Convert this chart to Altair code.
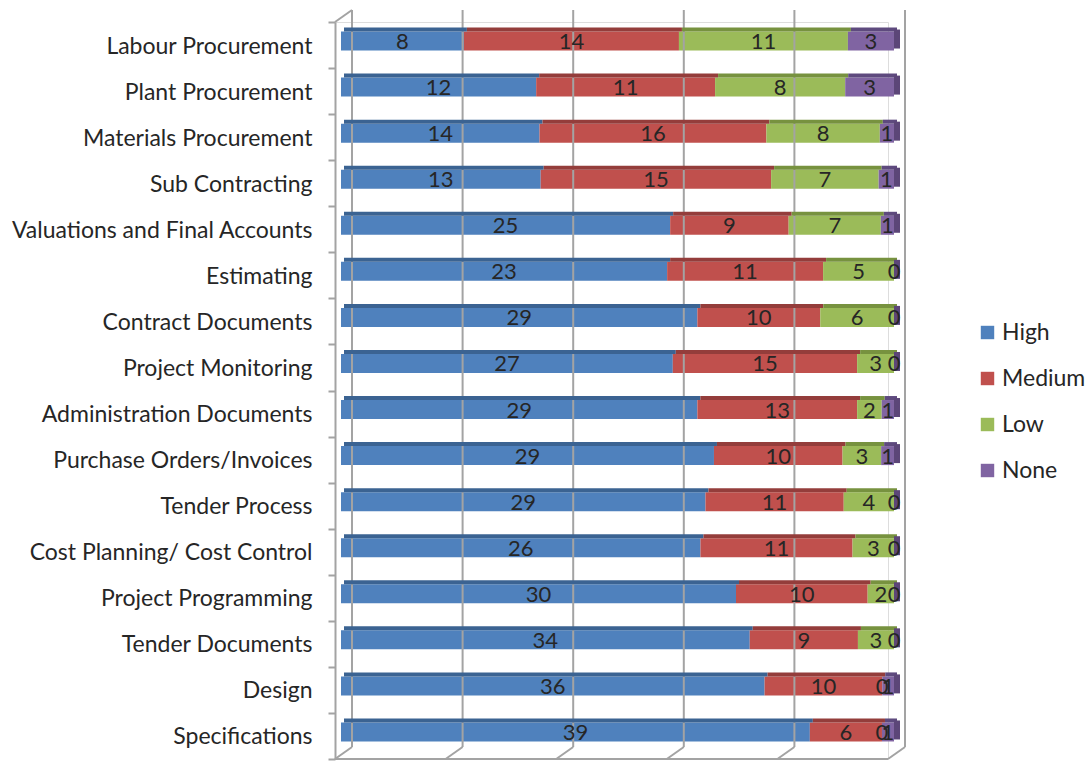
import altair as alt
import pandas as pd

# Survey responses per activity: counts rated High / Medium / Low / None
categories = [
    "Labour Procurement", "Plant Procurement", "Materials Procurement",
    "Sub Contracting", "Valuations and Final Accounts", "Estimating",
    "Contract Documents", "Project Monitoring", "Administration Documents",
    "Purchase Orders/Invoices", "Tender Process", "Cost Planning/ Cost Control",
    "Project Programming", "Tender Documents", "Design", "Specifications",
]
series = ["High", "Medium", "Low", "None"]
high = [8, 12, 14, 13, 25, 23, 29, 27, 29, 29, 29, 26, 30, 34, 36, 39]
medium = [14, 11, 16, 15, 9, 11, 10, 15, 13, 10, 11, 11, 10, 9, 10, 6]
low = [11, 8, 8, 7, 7, 5, 6, 3, 2, 3, 4, 3, 2, 3, 0, 0]
none = [3, 3, 1, 1, 1, 0, 0, 0, 1, 1, 0, 0, 0, 0, 1, 1]
grid_ticks = [0, 0.2, 0.4, 0.6, 0.8, 1.0]

front_colors = ["#4F81BD", "#C0504D", "#9BBB59", "#8064A2"]
top_colors = ["#3B6392", "#943D3B", "#77923F", "#5E4A7E"]
side_color = "#5C4678"
grid_color = "#A3A3A3"
text_color = "#262626"
font = "Lato"

# Build the 100%-stacked segments (start, end, midpoint as shares of the row total)
rows = []
for i, cat in enumerate(categories):
    vals = [high[i], medium[i], low[i], none[i]]
    total = sum(vals)
    acc = 0
    for s, v, tc in zip(series, vals, top_colors):
        start = acc / total
        acc += v
        end = acc / total
        rows.append({"cat": cat, "series": s, "value": v, "label": str(v),
                     "start": start, "end": end, "mid": (start + end) / 2,
                     "top": tc})
df = pd.DataFrame(rows)
ends = pd.DataFrame({"cat": categories, "pos": [1.0] * len(categories)})
grid = pd.DataFrame({"t": grid_ticks})

W, H = 553, 737
xs = alt.Scale(domain=[0, 1], nice=False, zero=False)
yaxis = alt.Axis(title=None, domain=True, domainColor=grid_color, domainWidth=2,
                 ticks=True, tickBand="extent", tickColor=grid_color, tickWidth=2,
                 tickSize=7, labelFont=font, labelFontSize=23, labelColor=text_color,
                 labelPadding=16, labelOffset=1, grid=False, labelLimit=400)
yscale = alt.Scale(paddingInner=0, paddingOuter=0)
ycat = alt.Y("cat:N", sort=categories, axis=yaxis, scale=yscale)

# Back wall gridlines and the floor depth lines
wall = alt.Chart(grid).mark_rule(color=grid_color, strokeWidth=2, xOffset=17).encode(
    x=alt.X("t:Q", scale=xs, axis=None),
    y=alt.value(-12), y2=alt.value(725))
floor_depth = alt.Chart(grid).mark_rule(color=grid_color, strokeWidth=2,
                                        xOffset=17, x2Offset=0).encode(
    x=alt.X("t:Q", scale=xs, axis=None), x2="t:Q",
    y=alt.value(725), y2=alt.value(737))
floor_front = alt.Chart(grid).mark_rule(color=grid_color, strokeWidth=2).encode(
    x=alt.X("min(t):Q", scale=xs, axis=None), x2="max(t):Q",
    y=alt.value(737))
wall_top = alt.Chart(grid).transform_filter("datum.t == 0").mark_rule(
    color=grid_color, strokeWidth=2, xOffset=17, x2Offset=0).encode(
    x=alt.X("t:Q", scale=xs, axis=None), x2="t:Q",
    y=alt.value(-12), y2=alt.value(0))

# Front faces of the stacked bars
bars = alt.Chart(df).mark_bar(size=19, xOffset=6, x2Offset=6, yOffset=-4).encode(
    x=alt.X("start:Q", scale=xs, axis=None), x2="end:Q",
    y=ycat,
    color=alt.Color("series:N", sort=series,
                    scale=alt.Scale(domain=series, range=front_colors),
                    legend=alt.Legend(title=None, orient="none", legendX=641,
                                      legendY=299, symbolType="square",
                                      symbolSize=180, symbolStrokeWidth=0,
                                      labelFont=font, labelFontSize=23,
                                      labelColor=text_color, labelOffset=3,
                                      rowPadding=22, padding=0)),
)
# Darker top faces giving the bars depth
tops = alt.Chart(df).mark_bar(size=4, xOffset=9, x2Offset=9, yOffset=-15.5).encode(
    x=alt.X("start:Q", scale=xs, axis=None), x2="end:Q",
    y=ycat,
    color=alt.Color("top:N", scale=None),
)
# Right-hand end face of each bar
sides = alt.Chart(ends).mark_bar(size=19, xOffset=6, x2Offset=12, yOffset=-6,
                                 color=side_color).encode(
    x=alt.X("pos:Q", scale=xs, axis=None), x2="pos:Q",
    y=ycat,
)
labels = alt.Chart(df).mark_text(font=font, fontSize=22, color=text_color,
                                 xOffset=6, yOffset=-3, baseline="middle",
                                 align="center").encode(
    x=alt.X("mid:Q", scale=xs, axis=None),
    y=ycat,
    text="label:N",
)

chart = alt.layer(bars, wall, floor_depth, floor_front, wall_top, tops, sides,
                  labels).properties(
    width=W, height=H,
    autosize=alt.AutoSizeParams(type="none"),
    padding={"left": 335, "top": 22, "right": 1089 - 335 - W, "bottom": 762 - 22 - H},
).configure_view(stroke=None).configure(background="white")

chart.save("out.html", embed_options={"renderer": "svg", "actions": False})
